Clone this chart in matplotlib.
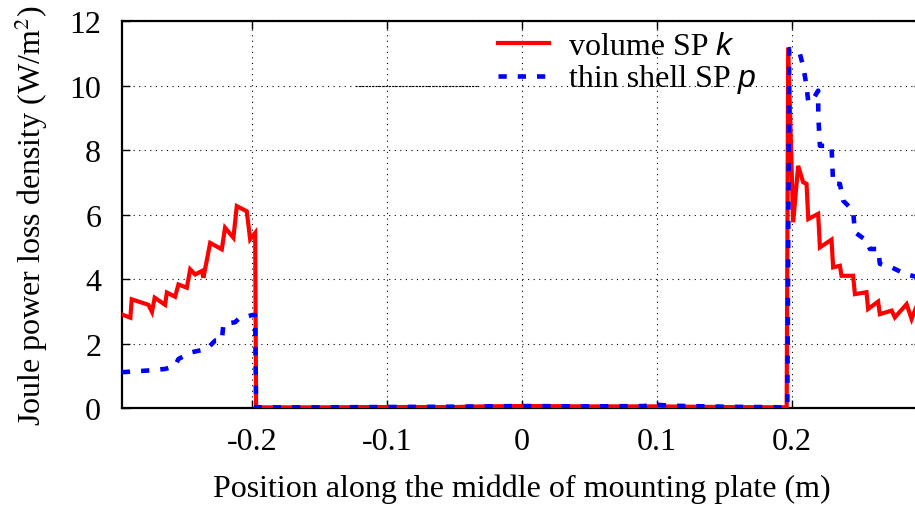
import matplotlib
matplotlib.use("Agg")
import matplotlib.pyplot as plt
import numpy as np

# ---- data ----
vol_x = [-0.2963, -0.290, -0.289, -0.2766, -0.274, -0.272, -0.2643, -0.263, -0.2569, -0.2544,
         -0.2482, -0.2457, -0.242, -0.237, -0.2359, -0.2309, -0.2223, -0.2199, -0.2137, -0.2112,
         -0.2038, -0.2013, -0.1976, -0.1969, -0.15, -0.10, -0.05, -0.03, 0.0, 0.05, 0.10, 0.15,
         0.1960, 0.1971, 0.2008, 0.2045, 0.2082, 0.2107, 0.212, 0.2193, 0.2206, 0.2292, 0.2304,
         0.2354, 0.2366, 0.2452, 0.2465, 0.2551, 0.2563, 0.2637, 0.2650, 0.2737, 0.2761, 0.2848,
         0.2885, 0.2935]
vol_y = [2.9, 2.8, 3.37, 3.2, 2.98, 3.42, 3.2, 3.58, 3.45, 3.83,
         3.73, 4.3, 4.14, 4.25, 4.04, 5.12, 4.92, 5.59, 5.28, 6.26,
         6.1, 5.23, 5.43, 0.02, 0.02, 0.03, 0.03, 0.05, 0.06, 0.05, 0.05, 0.03,
         0.02, 11.18, 5.76, 7.51, 7.0, 6.95, 5.86, 6.02, 4.98, 5.22, 4.36,
         4.41, 4.10, 4.10, 3.53, 3.59, 3.07, 3.30, 2.91, 3.02, 2.81, 3.22,
         2.76, 3.3]

shell_x = [-0.2963, -0.2778, -0.2643, -0.2569, -0.2544, -0.2445, -0.2334, -0.2272, -0.2223,
           -0.2211, -0.2124, -0.21, -0.2, -0.1976, -0.1969, -0.15, -0.10, -0.05, 0.0, 0.05,
           0.09, 0.10, 0.11, 0.15, 0.1965, 0.1979, 0.2033, 0.2058, 0.2082, 0.2107, 0.212,
           0.2156, 0.2193, 0.2194, 0.2206, 0.2292, 0.2304, 0.2354, 0.2378, 0.2452, 0.2465,
           0.2551, 0.2576, 0.2637, 0.2650, 0.2737, 0.2835, 0.2935]
shell_y = [1.11, 1.16, 1.21, 1.31, 1.52, 1.73, 1.83, 2.09, 2.09,
           2.60, 2.66, 2.76, 2.88, 2.88, 0.02, 0.02, 0.03, 0.04, 0.06, 0.05,
           0.06, 0.10, 0.07, 0.04, 0.02, 11.13, 11.08, 10.98, 10.6, 9.99, 9.48,
           9.58, 9.84, 9.06, 8.13, 8.13, 6.95, 6.95, 6.43, 6.12, 5.45,
           5.19, 4.93, 4.93, 4.47, 4.36, 4.16, 4.05]

xticks = [-0.2, -0.1, 0.0, 0.1, 0.2]
xticklabels = ["-0.2", "-0.1", "0", "0.1", "0.2"]
yticks = [0, 2, 4, 6, 8, 10, 12]
yticklabels = ["0", "2", "4", "6", "8", "10", "12"]

plt.rcParams['font.family'] = ['Liberation Serif', 'DejaVu Serif']
plt.rcParams['mathtext.fontset'] = 'stix'
FS = 23

fig = plt.figure(figsize=(9.15, 5.10), dpi=100)
ax = fig.add_axes([122/915, 101/510, 800/915, 387/510])

ax.plot(vol_x, vol_y, color='#ff0000', lw=3.0, solid_joinstyle='miter', zorder=3)
ax.plot(shell_x, shell_y, color='#0000ff', lw=3.3, dashes=(1.8, 2.4), zorder=4)

ax.set_xlim(-0.2962, 0.2962)
ax.set_ylim(0, 12)
ax.set_xticks(xticks)
ax.set_xticklabels(xticklabels)
ax.set_yticks(yticks)
ax.set_yticklabels(yticklabels)
ax.tick_params(direction='in', length=6, width=1.0, labelsize=FS, top=True, right=True)
ax.tick_params(axis='y', pad=15)
ax.tick_params(axis='x', pad=14)
ax.grid(True, color='black', linestyle=(0, (1, 4)), lw=0.8)
for s in ax.spines.values():
    s.set_linewidth(1.6)

ax.set_xlabel("Position along the middle of mounting plate (m)", fontsize=FS, labelpad=12)
ax.set_ylabel("Joule power loss density (W/m$^2$)", fontsize=FS, labelpad=14)

# short darker segment on the y=10 grid line (as in the original)
ax.plot([(355 - 522) / 1351, (478 - 522) / 1351], [10, 10], color='black',
        lw=0.8, linestyle=(0, (2, 1)), zorder=2)

# legend drawn manually
def fx(px):
    return px / 915
def fy(py):
    return 1 - py / 510
fig.add_artist(plt.Line2D([fx(498), fx(549)], [fy(44), fy(44)], color='#ff0000', lw=3.0))
fig.add_artist(plt.Line2D([fx(498), fx(549)], [fy(77), fy(77)], color='#0000ff', lw=3.3,
                          dashes=(1.8, 2.4)))
t1 = fig.text(fx(569), fy(55), "volume SP ", fontsize=FS, ha='left', va='baseline')
t2 = fig.text(fx(569), fy(87), "thin shell SP ", fontsize=FS, ha='left', va='baseline')
fig.canvas.draw()
r = fig.canvas.get_renderer()
for t, s in [(t1, "k"), (t2, "p")]:
    bb = t.get_window_extent(r)
    fig.text(bb.x1 / 915, t.get_position()[1], s, fontsize=FS, ha='left', va='baseline',
             family='Liberation Sans', style='italic')

fig.savefig("out.png", dpi=100)
